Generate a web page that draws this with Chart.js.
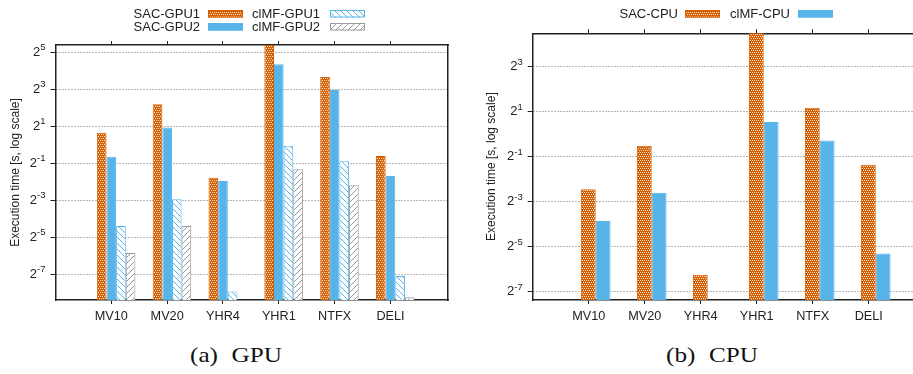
<!DOCTYPE html>
<html>
<head>
<meta charset="utf-8">
<script src="https://cdn.jsdelivr.net/npm/chart.js@4"></script>
<style>
  html, body { margin: 0; padding: 0; background: #fff; width: 913px; height: 374px; overflow: hidden; }
  canvas { position: absolute; top: 0; }
  #gpu { left: 0; }
  #cpu { left: 460px; }
  .cap { position: absolute; top: 343px; width: 200px; text-align: center; line-height: 24px;
         font-family: "Liberation Serif", serif; font-size: 21px; color: #111;
         word-spacing: 6px; white-space: nowrap; transform: scaleX(1.2); }
</style>
</head>
<body>
<canvas id="gpu" width="460" height="340"></canvas>
<canvas id="cpu" width="453" height="340"></canvas>
<div class="cap" style="left:136px">(a) GPU</div>
<div class="cap" style="left:612px">(b) CPU</div>
<script>
// benchmarks on the x axis
const categories = ['MV10', 'MV20', 'YHR4', 'YHR1', 'NTFX', 'DELI'];

// GPU run times in seconds
const sacGpu1 = [1.57, 4.57, 0.29, 48, 12.7, 0.655];
const sacGpu2 = [0.64, 1.9, 0.257, 20.4, 7.8, 0.31];
const clmfGpu1 = [0.0477, 0.13, 0.0041, 0.96, 0.54, 0.0073];
const clmfGpu2 = [0.0173, 0.0477, null, 0.4, 0.22, 0.0033];

// CPU run times in seconds
const sacCpu = [0.183, 0.70, 0.0132, 26, 2.26, 0.39];
const clmfCpu = [0.0688, 0.165, null, 1.45, 0.82, 0.0253];

// y tick values (powers of two)
const gpuTicks = [2 ** -7, 2 ** -5, 2 ** -3, 2 ** -1, 2 ** 1, 2 ** 3, 2 ** 5];
const cpuTicks = [2 ** -7, 2 ** -5, 2 ** -3, 2 ** -1, 2 ** 1, 2 ** 3];

const orange = '#D55E00';
const blue = '#56B4E9';
const grey = '#999999';
const ink = '#222';
const FONT = '"Liberation Sans", Arial, sans-serif';

function tile(size, draw) {
  const c = document.createElement('canvas');
  c.width = c.height = size;
  const g = c.getContext('2d');
  draw(g, size);
  return g.createPattern(c, 'repeat');
}

const checker = tile(4, (g) => {
  g.fillStyle = orange;
  g.fillRect(0, 0, 4, 4);
  g.fillStyle = '#fde6d4';
  g.fillRect(0, 0, 1, 1);
  g.fillRect(2, 0, 1, 1);
  g.fillRect(1, 2, 1, 1);
  g.fillRect(3, 2, 1, 1);
});

function hatch(color, back) {
  return tile(6, (g, s) => {
    g.fillStyle = '#fff';
    g.fillRect(0, 0, s, s);
    g.strokeStyle = color;
    g.lineWidth = 1;
    g.beginPath();
    [-s, 0, s].forEach(off => {
      if (back) { g.moveTo(off - 1, -1); g.lineTo(off + s + 1, s + 1); }
      else { g.moveTo(off - 1, s + 1); g.lineTo(off + s + 1, -1); }
    });
    g.stroke();
  });
}

function points(vals, shift) {
  return categories.map((c, i) => ({ x: i + shift, y: vals[i] }));
}

// draws the 2^n tick labels and the gnuplot-style key
const gnuplotBits = {
  id: 'gnuplotBits',
  afterDraw(chart, args, opts) {
    const ctx = chart.ctx;
    const y = chart.scales.y;
    ctx.save();
    ctx.fillStyle = ink;
    ctx.textAlign = 'left';
    y.ticks.forEach(t => {
      const py = y.getPixelForValue(t.value);
      const exp = String(Math.round(Math.log2(t.value)));
      ctx.font = '13px ' + FONT;
      const w2 = ctx.measureText('2').width;
      ctx.font = '9.5px ' + FONT;
      const we = ctx.measureText(exp).width;
      const right = y.right - 10;
      ctx.font = '13px ' + FONT;
      ctx.textBaseline = 'middle';
      ctx.fillText('2', right - we - w2, py);
      ctx.font = '9.5px ' + FONT;
      ctx.textBaseline = 'alphabetic';
      ctx.fillText(exp, right - we, py - 2);
    });
    opts.key.forEach(k => {
      const ds = chart.data.datasets[k.ds];
      ctx.font = '13px ' + FONT;
      ctx.fillStyle = ink;
      ctx.textAlign = 'right';
      ctx.textBaseline = 'middle';
      ctx.fillText(ds.label, k.tx, k.y);
      ctx.fillStyle = ds.backgroundColor;
      ctx.fillRect(k.sx, k.y - 4, 35, 7.5);
      ctx.strokeStyle = ds.borderColor;
      ctx.lineWidth = 1;
      ctx.strokeRect(k.sx + 0.5, k.y - 3.5, 34, 6.5);
    });
    ctx.restore();
  }
};

function makeChart(id, datasets, cfg) {
  const xTicks = (s) => { s.ticks = categories.map((c, i) => ({ value: i })); };
  return new Chart(document.getElementById(id), {
    type: 'bar',
    data: { datasets },
    plugins: [gnuplotBits],
    options: {
      responsive: false,
      animation: false,
      devicePixelRatio: 1,
      layout: { padding: 0 },
      datasets: { bar: { categoryPercentage: cfg.catPct, barPercentage: 1, borderWidth: 1 } },
      plugins: {
        legend: { display: false },
        tooltip: { enabled: false },
        gnuplotBits: { key: cfg.key }
      },
      scales: {
        x: {
          type: 'linear', position: 'bottom', min: -1, max: cfg.xMax, bounds: 'data',
          offset: false,
          afterBuildTicks: xTicks,
          afterFit: (s) => { s.height = 40; },
          grid: { offset: false, drawOnChartArea: false, drawTicks: true, tickLength: 4, tickColor: ink, tickWidth: 1 },
          border: { display: true, color: ink, width: 1.5 },
          ticks: {
            autoSkip: false, maxRotation: 0, padding: 5, color: ink,
            font: { family: FONT, size: 12.7 },
            callback: (v) => categories[v] ?? ''
          }
        },
        x2: {
          type: 'linear', position: 'top', min: -1, max: cfg.xMax, bounds: 'data',
          offset: false,
          afterBuildTicks: xTicks,
          afterFit: (s) => { s.height = cfg.top; },
          grid: { offset: false, drawOnChartArea: false, drawTicks: true, tickLength: 4, tickColor: ink, tickWidth: 1 },
          border: { display: true, color: ink, width: 1.5 },
          ticks: { display: false }
        },
        y: {
          type: 'logarithmic', position: 'left', min: cfg.yMin, max: cfg.yMax, bounds: 'data',
          afterBuildTicks: (s) => { s.ticks = cfg.yTicks.map(v => ({ value: v })); },
          afterFit: (s) => { s.width = cfg.left; },
          grid: { color: '#707070', lineWidth: 1, drawTicks: true, tickLength: 5, tickColor: ink, tickWidth: 1 },
          border: { display: true, color: ink, width: 1.5, dash: [1, 2] },
          ticks: { display: false },
          title: {
            display: true, text: 'Execution time [s, log scale]', color: ink,
            font: { family: FONT, size: 12 }, padding: { top: cfg.titlePad, bottom: 0 }
          }
        },
        y2: {
          display: cfg.right > 0,
          type: 'linear', position: 'right', min: 0, max: 1,
          afterFit: (s) => { s.width = cfg.right; },
          grid: { display: false },
          border: { display: true, color: ink, width: 1.5 },
          ticks: { display: false }
        }
      }
    }
  });
}

const gpuShift = 0.086;
makeChart('gpu', [
  { label: 'SAC-GPU1', data: points(sacGpu1, gpuShift), backgroundColor: checker, borderColor: orange },
  { label: 'SAC-GPU2', data: points(sacGpu2, gpuShift), backgroundColor: blue, borderColor: blue },
  { label: 'clMF-GPU1', data: points(clmfGpu1, gpuShift), backgroundColor: hatch(blue, true), borderColor: blue },
  { label: 'clMF-GPU2', data: points(clmfGpu2, gpuShift), backgroundColor: hatch(grey, false), borderColor: grey }
], {
  catPct: 0.69, xMax: 6.03, top: 45, left: 55.5, right: 12, titlePad: 8,
  yMin: 2 ** -8.39, yMax: 2 ** 5.39, yTicks: gpuTicks,
  key: [
    { ds: 0, tx: 200, sx: 208, y: 14 },
    { ds: 1, tx: 200, sx: 208, y: 27 },
    { ds: 2, tx: 320, sx: 330, y: 14 },
    { ds: 3, tx: 320, sx: 330, y: 27 }
  ]
});

// the CPU panel runs off the right edge of the figure, so no right border
const cpuShift = 0.125;
makeChart('cpu', [
  { label: 'SAC-CPU', data: points(sacCpu, cpuShift), backgroundColor: checker, borderColor: orange },
  { label: 'clMF-CPU', data: points(clmfCpu, cpuShift), backgroundColor: blue, borderColor: blue }
], {
  catPct: 0.53, xMax: 5.79, top: 33.3, left: 72.7, right: 0, titlePad: 24,
  yMin: 2 ** -7.37, yMax: 2 ** 4.48, yTicks: cpuTicks,
  key: [
    { ds: 0, tx: 218, sx: 225, y: 14 },
    { ds: 1, tx: 330, sx: 338, y: 14 }
  ]
});
</script>
</body>
</html>
